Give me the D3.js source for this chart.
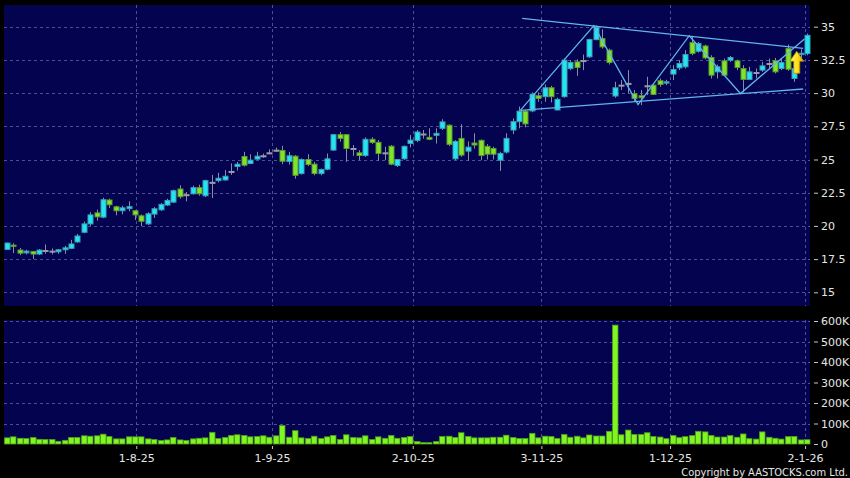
<!DOCTYPE html>
<html>
<head>
<meta charset="utf-8">
<script src="https://cdn.jsdelivr.net/npm/d3@7/dist/d3.min.js"></script>
<style>
  body { margin: 0; background: #000; }
  svg { display: block; }
  .axis text { fill: #e6e6e6; font-family: "DejaVu Sans", sans-serif; font-size: 11px; }
  .axis line { stroke: #c8c8c8; }
  .axis path { display: none; }
  .grid line { stroke: #4f4f8f; stroke-dasharray: 3,3; stroke-width: 1; }
</style>
</head>
<body>
<script>
// Daily OHLC (oldest first)
let openP = [18.23,18.55,18.18,17.97,18.08,17.88,18.15,18.1,18.05,18.2,
  18.31,18.79,19.52,20.15,20.98,20.66,21.95,21.44,21.14,21.3,
  21.14,20.76,20.15,20.89,21.21,21.57,21.79,22.78,22.35,22.42,
  22.88,22.27,23.28,23.41,23.46,24.1,24.47,25.23,24.7,25.03,
  25.28,25.5,25.7,25.68,24.85,25.25,23.94,25.0,24.65,23.94,
  24.27,25.71,26.87,26.87,25.83,25.5,25.3,26.52,26.29,25.5,
  26.0,24.55,25.05,26.21,26.44,26.92,26.67,26.82,27.35,27.58,
  25.05,26.59,25.63,26.24,26.44,25.99,25.83,24.95,25.56,27.22,
  27.85,28.64,28.66,29.8,29.73,30.4,28.73,29.73,31.85,32.35,
  32.45,32.73,34.03,34.1,33.23,29.78,30.6,30.73,29.95,29.8,
  30.55,30.6,30.93,30.75,31.43,31.9,31.98,33.8,33.15,33.55,
  32.68,31.6,32.43,32.48,32.43,31.85,31.03,31.55,31.73,32.23,
  32.43,31.85,33.35,31.1,32.9,32.98];
let closeP = [18.71,18.45,17.95,18.1,17.88,18.18,18.15,18.1,18.2,18.35,
  18.64,19.24,20.15,20.83,20.68,21.97,21.59,21.14,21.36,21.45,
  20.83,20.35,20.91,21.29,21.62,21.92,22.65,22.2,22.35,22.88,
  22.42,23.41,23.28,23.59,23.74,24.1,24.65,24.57,24.95,25.25,
  25.28,25.5,25.7,24.87,25.28,23.81,25.0,24.62,23.94,24.24,
  25.05,26.87,26.59,25.83,25.83,25.3,26.52,26.29,25.45,25.5,
  24.65,25.0,25.99,26.46,27.07,26.92,26.52,26.97,27.83,26.14,
  26.36,25.33,25.93,26.09,25.3,25.4,25.4,25.45,26.59,27.85,
  28.64,27.68,29.92,29.6,30.4,29.73,29.53,32.48,32.3,31.93,
  32.45,34.03,34.95,33.48,32.3,30.4,30.6,30.73,29.6,29.65,
  30.55,29.9,30.65,30.85,31.78,32.23,32.9,32.98,33.73,32.65,
  31.35,31.98,31.35,32.68,31.93,31.03,31.6,31.55,32.05,32.23,
  31.6,32.3,31.8,31.85,33.0,34.35];
let highP = [18.75,18.7,18.33,18.2,18.1,18.25,18.6,18.3,18.25,18.5,
  18.95,19.4,20.33,21.03,21.23,22.12,22.05,21.52,21.52,21.85,
  21.2,20.86,21.03,21.42,21.72,22.05,22.73,23.06,22.55,23.03,
  23.1,23.48,23.84,24.0,24.2,24.7,24.82,25.58,25.4,25.58,
  25.45,25.76,25.9,26.03,25.58,25.33,25.08,25.4,24.82,24.32,
  25.45,26.92,27.07,26.92,26.09,25.7,26.67,26.67,26.47,25.96,
  26.09,25.05,26.06,26.84,27.22,27.22,27.35,27.35,28.03,27.65,
  26.46,27.65,26.36,26.97,26.52,26.16,25.96,25.58,26.97,28.1,
  28.99,28.74,30.05,30.05,30.65,30.55,29.65,32.6,32.48,32.55,
  32.9,34.1,35.1,34.8,33.35,30.85,30.98,31.73,30.23,30.23,
  31.23,30.73,31.1,31.0,32.1,32.48,33.23,34.3,33.85,33.65,
  32.85,32.15,32.6,32.8,32.53,32.1,31.98,31.85,32.35,32.6,
  32.65,32.6,33.65,32.35,33.3,34.48];
let lowP = [18.2,17.95,17.8,17.85,17.5,17.8,17.9,17.85,17.9,17.9,
  18.25,18.72,19.45,20.0,20.4,20.58,21.35,20.8,20.87,21.1,
  20.45,19.97,20.07,20.6,21.13,21.5,21.72,22.05,21.85,22.35,
  22.27,22.17,22.1,23.28,23.4,23.84,24.17,24.47,24.65,24.95,
  25.13,25.4,25.6,24.65,24.62,23.56,23.86,24.5,23.81,23.81,
  24.2,25.64,26.34,24.82,25.28,24.95,25.2,26.16,24.9,24.95,
  24.57,24.44,24.98,25.9,26.31,26.57,26.46,26.2,27.22,26.01,
  24.95,25.2,24.9,25.83,24.95,25.0,25.0,24.14,25.45,26.92,
  27.35,27.42,28.56,29.35,29.35,29.3,28.7,29.65,31.73,31.3,
  31.73,32.65,33.98,33.35,32.15,29.65,30.23,29.98,29.4,29.1,
  29.85,29.85,30.48,30.6,30.98,31.73,31.85,32.85,33.05,32.55,
  31.1,31.1,31.3,32.35,31.73,30.05,30.98,31.1,31.6,31.85,
  31.48,31.73,31.68,30.85,32.5,32.85];

// Daily volume, in thousands of shares
let volumeK = [30,35,28,27,32,23,22,22,13,18,
  32,32,40,38,40,48,37,25,25,35,
  35,35,25,22,17,20,32,20,17,25,
  28,30,57,27,32,42,45,42,35,37,
  40,33,40,90,33,65,30,27,38,27,
  35,42,22,45,32,30,40,22,35,28,
  42,28,32,37,12,7,7,12,37,38,
  32,55,37,30,30,30,33,33,43,32,
  27,27,52,30,38,37,27,47,33,38,
  30,44,39,39,62,580,45,68,47,47,
  55,37,34,26,42,31,36,41,62,59,
  42,34,34,41,33,49,26,24,59,33,
  28,24,36,37,20,21];

// Axis ticks
let priceTicks = [15, 17.5, 20, 22.5, 25, 27.5, 30, 32.5, 35];
let volTicks = [0, 100, 200, 300, 400, 500, 600];
let dateLabels = ["1-8-25", "1-9-25", "2-10-25", "3-11-25", "1-12-25", "2-1-26"];
let dateIdx = [20.2, 41.4, 63.4, 83.5, 103.6, 124.7];

// Drawn pattern: channel lines and zigzag, as [day index, price]
let upperLine = [[80.5, 35.63], [124.4, 33.37]];
let lowerLine = [[80.2, 28.7], [124.4, 30.31]];
let zigzag = [[80.2, 28.7], [91.7, 35.08], [98.6, 29.14], [106.6, 34.32], [114.6, 29.97], [124.6, 34.07]];
let arrowAt = [123.4, 33.15];

let svgWidth = 850;
let svgHeight = 478;
let plotLeft = 4, plotRight = 810;
let priceTop = 5, priceBottom = 306;
let volTop = 320, volBottom = 444;

let svg = d3.select("body")
  .append("svg")
  .attr("width", svgWidth)
  .attr("height", svgHeight);

svg.append("rect")
  .attr("width", svgWidth)
  .attr("height", svgHeight)
  .attr("fill", "#000");

// Scales
let xScale = d3.scaleLinear().domain([0, openP.length - 1]).range([7, 807]);
let yPrice = d3.scaleLinear().domain([15, 35]).range([292.3, 26.7]);
let yVol = d3.scaleLinear().domain([0, 600]).range([444, 321]);

// Panel backgrounds
svg.append("rect")
  .attr("x", plotLeft).attr("y", priceTop)
  .attr("width", plotRight - plotLeft).attr("height", priceBottom - priceTop)
  .attr("fill", "#03034f");
svg.append("rect")
  .attr("x", plotLeft).attr("y", volTop)
  .attr("width", plotRight - plotLeft).attr("height", volBottom - volTop)
  .attr("fill", "#03034f");

// Grid lines
let grid = svg.append("g").attr("class", "grid");
grid.selectAll(".hp")
  .data(priceTicks)
  .enter().append("line")
  .attr("x1", plotLeft).attr("x2", plotRight)
  .attr("y1", d => Math.round(yPrice(d)) + 0.5)
  .attr("y2", d => Math.round(yPrice(d)) + 0.5);
grid.selectAll(".hv")
  .data(volTicks.filter(d => d > 0))
  .enter().append("line")
  .attr("x1", plotLeft).attr("x2", plotRight)
  .attr("y1", d => Math.round(yVol(d)) + 0.5)
  .attr("y2", d => Math.round(yVol(d)) + 0.5);
dateIdx.forEach(function(d) {
  let x = Math.round(xScale(d)) + 0.5;
  grid.append("line").attr("x1", x).attr("x2", x).attr("y1", priceTop).attr("y2", priceBottom);
  grid.append("line").attr("x1", x).attr("x2", x).attr("y1", volTop).attr("y2", volBottom);
});

// Candles
let candles = openP.map((o, i) => ({ i: i, o: o, c: closeP[i], h: highP[i], l: lowP[i] }));
let candleGroup = svg.append("g");
candleGroup.selectAll("line")
  .data(candles)
  .enter().append("line")
  .attr("x1", d => Math.round(xScale(d.i)) + 0.5)
  .attr("x2", d => Math.round(xScale(d.i)) + 0.5)
  .attr("y1", d => yPrice(d.h))
  .attr("y2", d => yPrice(d.l))
  .attr("stroke", "#8b8ba3")
  .attr("stroke-width", 1);
candleGroup.selectAll("rect")
  .data(candles)
  .enter().append("rect")
  .attr("x", d => Math.round(xScale(d.i)) - 2)
  .attr("y", d => yPrice(Math.max(d.o, d.c)))
  .attr("width", 5)
  .attr("height", d => Math.max(1, Math.abs(yPrice(d.o) - yPrice(d.c))))
  .attr("fill", d => d.c > d.o ? "#24e4f0" : d.c < d.o ? "#82e42a" : "#9a9aaa")
  .attr("stroke", d => d.c > d.o ? "#3b9fb8" : d.c < d.o ? "#5c9b2e" : "#9a9aaa")
  .attr("stroke-width", 1);

// Pattern lines
let line = d3.line().x(d => xScale(d[0])).y(d => yPrice(d[1]));
[upperLine, lowerLine, zigzag].forEach(function(pts) {
  svg.append("path")
    .attr("d", line(pts))
    .attr("fill", "none")
    .attr("stroke", "#62b4ee")
    .attr("stroke-width", 1.3);
});

// Yellow arrow
let defs = svg.append("defs");
let grad = defs.append("linearGradient").attr("id", "arrowGrad")
  .attr("x1", 0).attr("x2", 1).attr("y1", 0).attr("y2", 0);
grad.append("stop").attr("offset", "0%").attr("stop-color", "#fff27a");
grad.append("stop").attr("offset", "55%").attr("stop-color", "#ffe21a");
grad.append("stop").attr("offset", "100%").attr("stop-color", "#d9a400");
let ax = xScale(arrowAt[0]), ay = yPrice(arrowAt[1]);
svg.append("path")
  .attr("d", `M${ax},${ay} L${ax + 7},${ay + 10} L${ax + 3},${ay + 10} L${ax + 3},${ay + 22}
              L${ax - 3},${ay + 22} L${ax - 3},${ay + 10} L${ax - 7},${ay + 10} Z`)
  .attr("fill", "url(#arrowGrad)")
  .attr("stroke", "#b88a00")
  .attr("stroke-width", 0.8);

// Volume bars
svg.append("g").selectAll("rect")
  .data(volumeK)
  .enter().append("rect")
  .attr("x", (d, i) => Math.round(xScale(i)) - 2.5)
  .attr("y", d => yVol(d))
  .attr("width", 5.5)
  .attr("height", d => volBottom - yVol(d))
  .attr("fill", "#7ff523")
  .attr("stroke", "#4f9a18")
  .attr("stroke-width", 0.8);

// Axes
svg.append("g")
  .attr("class", "axis")
  .attr("transform", "translate(814,0)")
  .call(d3.axisRight(yPrice).tickValues(priceTicks).tickSize(4).tickPadding(3).tickFormat(d => String(d)));
svg.append("g")
  .attr("class", "axis")
  .attr("transform", "translate(814,0)")
  .call(d3.axisRight(yVol).tickValues(volTicks).tickSize(4).tickPadding(3).tickFormat(d => d === 0 ? "0" : d + "K"));
svg.append("g")
  .attr("class", "axis")
  .attr("transform", `translate(0,${volBottom + 2})`)
  .call(d3.axisBottom(xScale).tickValues(dateIdx).tickSize(3).tickPadding(5).tickFormat((d, i) => dateLabels[i]));

// Copyright line
svg.append("text")
  .attr("x", 848)
  .attr("y", 476)
  .attr("text-anchor", "end")
  .attr("fill", "#e6e6e6")
  .style("font-family", "'DejaVu Sans Condensed', 'DejaVu Sans', sans-serif")
  .style("font-size", "11px")
  .text("Copyright by AASTOCKS.com Ltd.");
</script>
</body>
</html>
